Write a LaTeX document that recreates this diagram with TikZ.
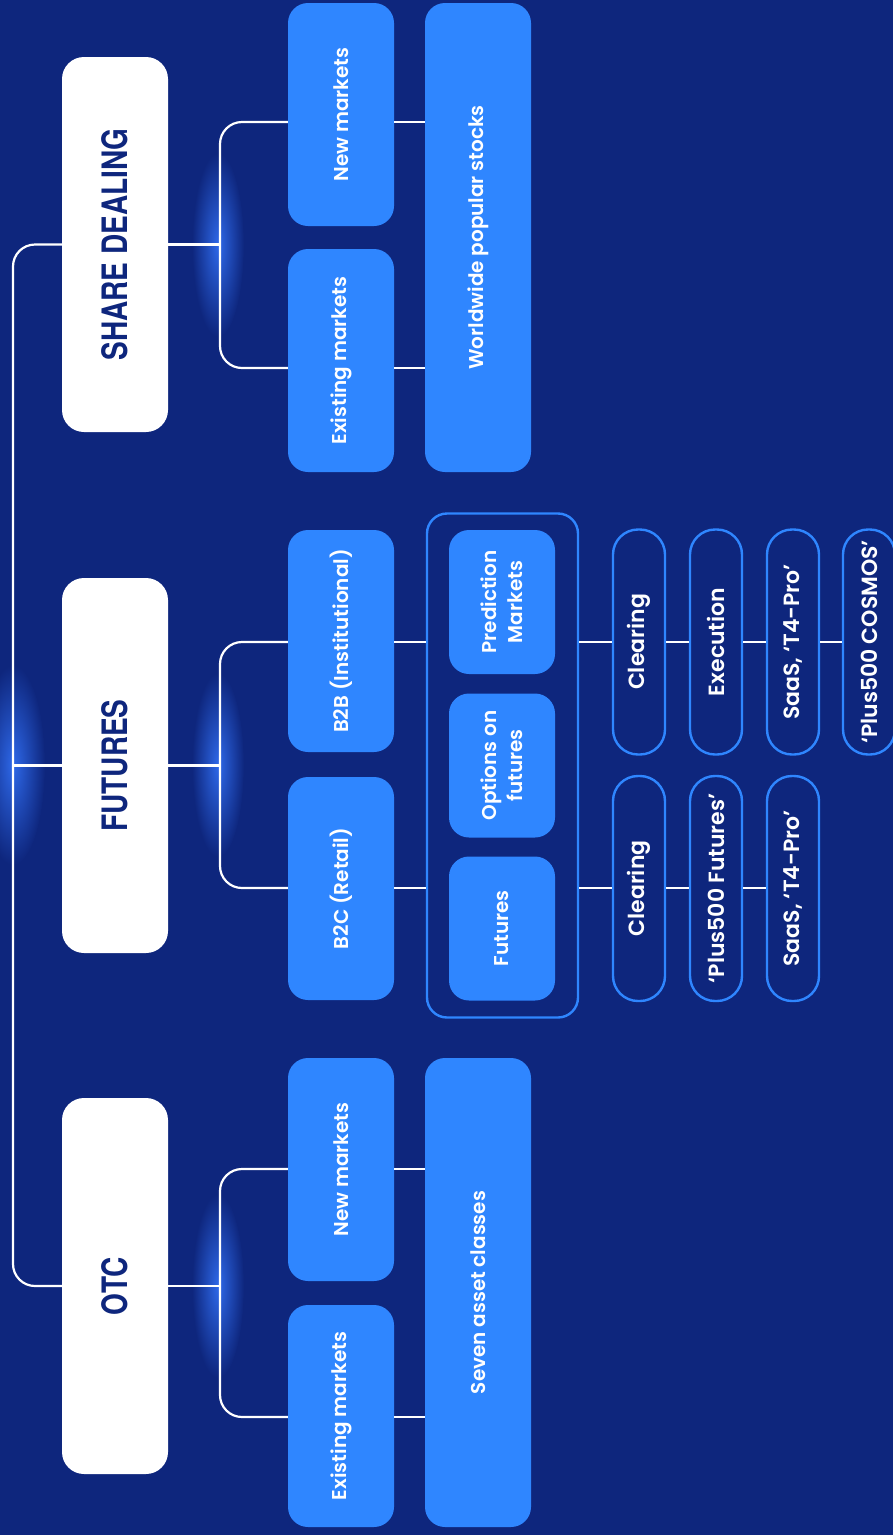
\documentclass[tikz,border=0pt]{standalone}
\usepackage{fontspec}
\setmainfont{Poppins}
\newfontfamily\popf{Poppins SemiBold}
\newfontfamily\ttlf{TeX Gyre Heros}[FakeStretch=0.8]
\definecolor{bg}{RGB}{14,38,125}
\definecolor{bbox}{RGB}{47,134,255}
\definecolor{glow}{RGB}{46,104,232}
\definecolor{navy}{RGB}{14,38,125}
\begin{document}
\begin{tikzpicture}[x=1pt,y=-1pt,
  titlebox/.style={fill=white, rounded corners=22pt, minimum width=106pt, inner sep=0pt},
  bluebox/.style={fill=bbox, rounded corners=20pt, minimum width=106pt, inner sep=0pt},
  pill/.style={draw=bbox, line width=2.4pt, rounded corners=25pt, minimum width=52pt, minimum height=225pt, inner sep=0pt},
  grpbox/.style={draw=bbox, line width=2.4pt, rounded corners=20pt, inner sep=0pt},
  lbl/.style={rotate=90, align=center, text=white, inner sep=0pt, font=\popf\fontsize{20}{26}\selectfont},
  plbl/.style={lbl, font=\popf\fontsize{22}{26}\selectfont},
  ttl/.style={rotate=90, text=navy, inner sep=0pt, font=\ttlf\bfseries\fontsize{35}{40}\selectfont},
  conn/.style={draw=white, line width=2.2pt},
  glowspot/.style={inner color=glow, outer color=bg},
]
\useasboundingbox (0,0) rectangle (893,1535);
\clip (0,0) rectangle (893,1535);
\fill[bg] (0,0) rectangle (893,1535);

% glows
\shade[glowspot] (218,245) ellipse [x radius=26, y radius=92];
\shade[glowspot] (218,765) ellipse [x radius=26, y radius=92];
\shade[glowspot] (218,1286) ellipse [x radius=26, y radius=92];
\shade[glowspot] (13,765) ellipse [x radius=32, y radius=100];

% helper coordinates
\coordinate (spine) at (13,0);
\coordinate (brk) at (220,0);
\coordinate (l1) at (0,122);
\coordinate (l2) at (0,368);
\coordinate (l3) at (0,642);
\coordinate (l4) at (0,888);
\coordinate (l5) at (0,1169);
\coordinate (l6) at (0,1417);

% titles
\node[titlebox, minimum height=375pt] (sd) at (115,244.5) {};
\node[titlebox, minimum height=375pt] (fut) at (115,765.5) {};
\node[titlebox, minimum height=376pt] (otc) at (115,1286) {};

% column 2
\node[bluebox, minimum height=223pt] (nm1) at (341,114.5) {};
\node[bluebox, minimum height=223pt] (em1) at (341,360.5) {};
\node[bluebox, minimum height=222pt] (b2b) at (341,641) {};
\node[bluebox, minimum height=223pt] (b2c) at (341,888.5) {};
\node[bluebox, minimum height=223pt] (nm2) at (341,1169.5) {};
\node[bluebox, minimum height=222pt] (em2) at (341,1416) {};

% column 3
\node[bluebox, minimum height=469pt] (ww) at (478,237.5) {};
\node[grpbox, minimum width=151pt, minimum height=504pt] (grp) at (502.5,765.5) {};
\node[bluebox, minimum height=144pt] (pm) at (502,602) {};
\node[bluebox, minimum height=144pt] (of) at (502,765.5) {};
\node[bluebox, minimum height=144pt] (fu) at (502,928.5) {};
\node[bluebox, minimum height=469pt] (sac) at (478,1292.5) {};

% pills
\node[pill] (c1) at (639,642) {};
\node[pill] (ex) at (716,642) {};
\node[pill] (sa1) at (793,642) {};
\node[pill] (cos) at (869,642) {};
\node[pill] (c2) at (639,888.5) {};
\node[pill] (pf) at (716,888.5) {};
\node[pill] (sa2) at (793,888.5) {};

% connectors
\draw[conn, rounded corners=22pt] (sd.west) -- (sd.west -| spine) -- (otc.west -| spine) -- (otc.west);
\draw[conn] (fut.west) -- (fut.west -| spine);

\draw[conn] (sd.east) -- (sd.east -| brk);
\draw[conn, rounded corners=22pt] (nm1.west |- l1) -- (brk |- l1) -- (brk |- l2) -- (em1.west |- l2);
\draw[conn] (nm1.east |- l1) -- (ww.west |- l1);
\draw[conn] (em1.east |- l2) -- (ww.west |- l2);

\draw[conn] (fut.east) -- (fut.east -| brk);
\draw[conn, rounded corners=22pt] (b2b.west |- l3) -- (brk |- l3) -- (brk |- l4) -- (b2c.west |- l4);
\draw[conn] (b2b.east |- l3) -- (grp.west |- l3);
\draw[conn] (b2c.east |- l4) -- (grp.west |- l4);
\draw[conn] (grp.east |- l3) -- (c1.west |- l3);
\draw[conn] (c1.east |- l3) -- (ex.west |- l3);
\draw[conn] (ex.east |- l3) -- (sa1.west |- l3);
\draw[conn] (sa1.east |- l3) -- (cos.west |- l3);
\draw[conn] (grp.east |- l4) -- (c2.west |- l4);
\draw[conn] (c2.east |- l4) -- (pf.west |- l4);
\draw[conn] (pf.east |- l4) -- (sa2.west |- l4);

\draw[conn] (otc.east) -- (otc.east -| brk);
\draw[conn, rounded corners=22pt] (nm2.west |- l5) -- (brk |- l5) -- (brk |- l6) -- (em2.west |- l6);
\draw[conn] (nm2.east |- l5) -- (sac.west |- l5);
\draw[conn] (em2.east |- l6) -- (sac.west |- l6);

% labels
\node[ttl] (sdt) at (sd) {SHARE DEALING};
\node[ttl] (futt) at (fut) {FUTURES};
\node[ttl] (otct) at (otc) {OTC};

\node[lbl] (nm1t) at (nm1) {New markets};
\node[lbl] (em1t) at (em1) {Existing markets};
\node[lbl] (b2bt) at (b2b) {B2B (Institutional)};
\node[lbl] (b2ct) at (b2c) {B2C (Retail)};
\node[lbl] (nm2t) at (nm2) {New markets};
\node[lbl] (em2t) at (em2) {Existing markets};
\node[lbl] (wwt) at (ww) {Worldwide popular stocks};
\node[lbl] (sact) at (sac) {Seven asset classes};
\node[lbl] (pmt) at (pm) {Prediction\\Markets};
\node[lbl] (oft) at (of) {Options on\\futures};
\node[lbl] (fut2) at (fu) {Futures};
\node[plbl] (c1t) at (c1) {Clearing};
\node[plbl] (ext) at (ex) {Execution};
\node[plbl] (sa1t) at (sa1) {SaaS, ‘T4-Pro’};
\node[plbl] (cost) at (cos) {‘Plus500 COSMOS’};
\node[plbl] (c2t) at (c2) {Clearing};
\node[plbl] (pft) at (pf) {‘Plus500 Futures’};
\node[plbl] (sa2t) at (sa2) {SaaS, ‘T4-Pro’};
\end{tikzpicture}
\end{document}
